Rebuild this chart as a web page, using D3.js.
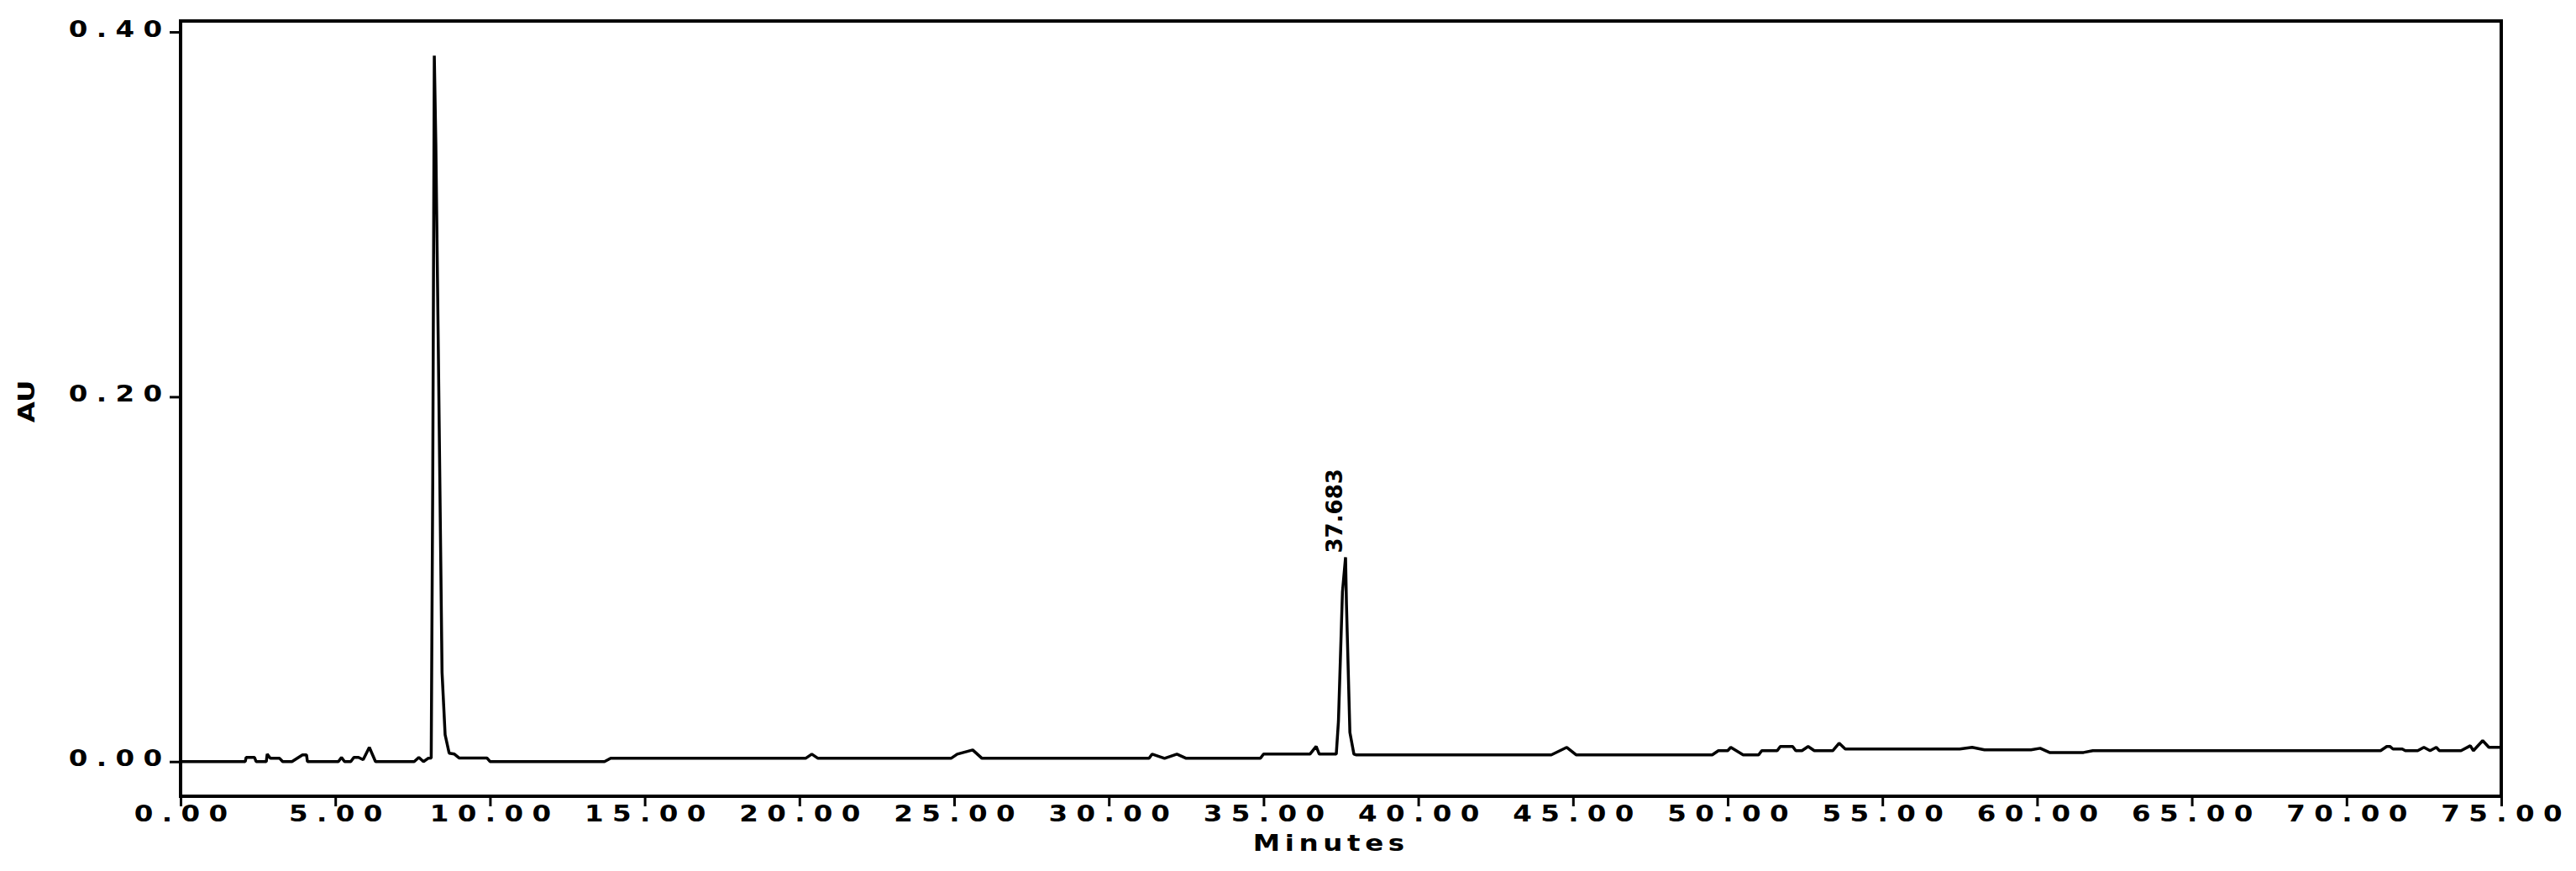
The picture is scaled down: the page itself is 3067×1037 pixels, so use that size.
<!DOCTYPE html>
<html>
<head>
<meta charset="utf-8">
<script src="https://cdn.jsdelivr.net/npm/d3@7"></script>
<style>
  html, body { margin: 0; padding: 0; background: #fff; }
  svg { display: block; }
  .tick-label, .axis-title { font-family: "DejaVu Sans", sans-serif; font-weight: bold; fill: #000; }
</style>
</head>
<body>
<svg id="chart" width="3067" height="1037"></svg>
<script>
(function () {
  "use strict";

  // retention time (min) and absorbance (AU)
  const minutes = [
    0, 2.09, 2.12, 2.39, 2.44, 2.77, 2.80, 2.90, 3.20, 3.30,
    3.60, 3.94, 4.07, 4.10, 5.10, 5.20, 5.30, 5.50, 5.60, 5.75,
    5.90, 6.10, 6.30, 7.55, 7.70, 7.85, 8.00, 8.10, 8.15, 8.20,
    8.25, 8.33, 8.45, 8.55, 8.68, 8.85, 9.00, 9.30, 9.90, 10.00,
    13.70, 13.90, 14.30, 20.20, 20.40, 20.60, 24.90, 25.10, 25.60, 25.90,
    31.30, 31.40, 31.80, 32.20, 32.50, 34.90, 35.00, 36.50, 36.70, 36.80,
    37.35, 37.42, 37.55, 37.65, 37.68, 37.79, 37.92, 38.00, 44.30, 44.80,
    45.10, 49.50, 49.70, 50.00, 50.10, 50.50, 51.00, 51.10, 51.60, 51.70,
    52.10, 52.20, 52.40, 52.60, 52.80, 53.40, 53.60, 53.80, 57.50, 57.90,
    58.30, 59.80, 60.10, 60.40, 61.50, 61.80, 71.10, 71.30, 71.40, 71.50,
    71.80, 71.90, 72.30, 72.50, 72.70, 72.90, 73.00, 73.70, 74.00, 74.10,
    74.40, 74.60, 75.00
  ];
  const absorbance = [
    0, 0, 0.0023, 0.0023, 0, 0, 0.0041, 0.0018, 0.0018, 0,
    0, 0.0037, 0.0037, 0, 0, 0.0023, 0, 0, 0.0023, 0.0023,
    0.0010, 0.0078, 0, 0, 0.0023, 0, 0.0018, 0.0020, 0.155, 0.387,
    0.338, 0.226, 0.049, 0.0147, 0.0046, 0.0041, 0.0020, 0.0020, 0.0020, 0,
    0, 0.0018, 0.0018, 0.0018, 0.0041, 0.0018, 0.0018, 0.0041, 0.0064, 0.0018,
    0.0018, 0.0041, 0.0018, 0.0041, 0.0018, 0.0018, 0.0041, 0.0041, 0.0083, 0.0041,
    0.0041, 0.022, 0.093, 0.112, 0.086, 0.016, 0.0041, 0.0037, 0.0037, 0.0078,
    0.0037, 0.0037, 0.0060, 0.0060, 0.0078, 0.0037, 0.0037, 0.0060, 0.0060, 0.0083,
    0.0083, 0.0060, 0.0060, 0.0083, 0.0060, 0.0060, 0.0101, 0.0069, 0.0069, 0.0078,
    0.0064, 0.0064, 0.0073, 0.0050, 0.0050, 0.0060, 0.0060, 0.0083, 0.0083, 0.0069,
    0.0069, 0.0060, 0.0060, 0.0078, 0.0060, 0.0078, 0.0060, 0.0060, 0.0087, 0.0060,
    0.0115, 0.0078, 0.0078
  ];

  const xTicks = d3.range(0, 80, 5);
  const yTicks = [0, 0.2, 0.4];
  const xDomain = [0, 75];
  const yDomain = [-0.019, 0.406];

  const peakLabel = "37.683";
  const peakTime = 37.65;
  const peakValue = 0.112;

  const svg = d3.select("#chart");
  const margin = { top: 25, right: 89, bottom: 89, left: 215 };
  const width = 3067, height = 1037;
  const fontSize = 26;
  const stretch = 1.25;   // the original pixel font is wide
  const spacing = 8.3;

  const x = d3.scaleLinear().domain(xDomain).range([margin.left, width - margin.right]);
  const y = d3.scaleLinear().domain(yDomain).range([height - margin.bottom, margin.top]);

  const fmt = d3.format(".2f");

  // x axis
  const gx = svg.append("g")
    .attr("transform", `translate(0,${height - margin.bottom})`)
    .call(d3.axisBottom(x).tickValues(xTicks).tickSize(12).tickPadding(0).tickFormat(fmt));
  gx.select(".domain").remove();
  gx.selectAll(".tick line").attr("stroke", "#000").attr("stroke-width", 3);
  gx.selectAll(".tick text")
    .attr("class", "tick-label")
    .attr("font-size", fontSize)
    .attr("letter-spacing", spacing)
    .attr("dx", spacing / 2)
    .attr("transform", `scale(${stretch},1)`)
    .attr("font-family", null);

  // y axis
  const gy = svg.append("g")
    .attr("transform", `translate(${margin.left},0)`)
    .call(d3.axisLeft(y).tickValues(yTicks).tickSize(13).tickFormat(fmt));
  gy.select(".domain").remove();
  gy.selectAll(".tick line").attr("stroke", "#000").attr("stroke-width", 3);
  gy.selectAll(".tick text")
    .attr("class", "tick-label")
    .attr("font-size", fontSize)
    .attr("letter-spacing", spacing)
    .attr("x", -9.3)
    .attr("dy", "0.2em")
    .attr("transform", `scale(${stretch},1)`)
    .attr("font-family", null);

  // frame
  svg.append("rect")
    .attr("x", margin.left)
    .attr("y", margin.top)
    .attr("width", width - margin.left - margin.right)
    .attr("height", height - margin.top - margin.bottom)
    .attr("fill", "none")
    .attr("stroke", "#000")
    .attr("stroke-width", 4);

  // trace
  const points = minutes.map((t, i) => [t, absorbance[i]]);
  const line = d3.line().x((d) => x(d[0])).y((d) => y(d[1]));
  svg.append("path")
    .datum(points)
    .attr("d", line)
    .attr("fill", "none")
    .attr("stroke", "#000")
    .attr("stroke-width", 3.5)
    .attr("stroke-linejoin", "bevel");

  // peak annotation
  svg.append("text")
    .attr("class", "tick-label")
    .attr("font-size", fontSize)
    .attr("font-weight", "normal")
    .attr("fill", "#1a1a2a")
    .attr("transform", `translate(${x(peakTime) - 4},${y(peakValue) - 5}) rotate(-90)`)
    .text(peakLabel);

  // axis titles
  svg.append("text")
    .attr("class", "axis-title")
    .attr("font-size", fontSize)
    .attr("letter-spacing", 4.5)
    .attr("text-anchor", "middle")
    .attr("dx", 2.25)
    .attr("transform", `translate(1582,1013) scale(${stretch},1)`)
    .text("Minutes");

  svg.append("text")
    .attr("class", "axis-title")
    .attr("font-size", fontSize)
    .attr("text-anchor", "middle")
    .attr("transform", `translate(41,478) rotate(-90) scale(${stretch},1)`)
    .text("AU");
})();
</script>
</body>
</html>
